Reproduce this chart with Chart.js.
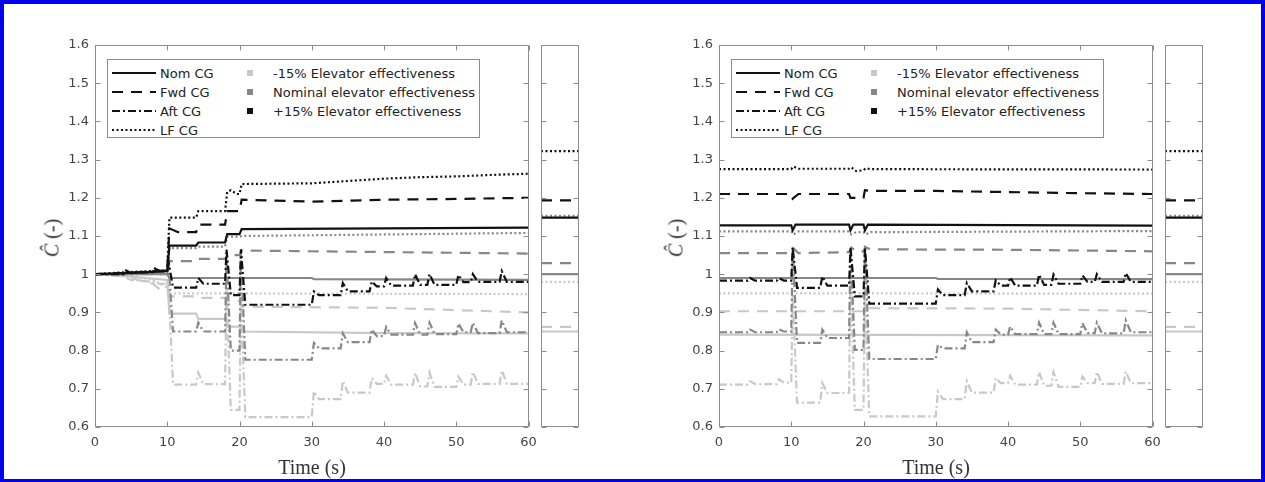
<!DOCTYPE html>
<html>
<head>
<meta charset="utf-8">
<script src="https://cdn.jsdelivr.net/npm/chart.js"></script>
<style>
  html, body { margin: 0; padding: 0; background: #fff; overflow: hidden; }
  #page { position: relative; width: 1265px; height: 482px; background: #fff; }
  #frame { position: absolute; left: 0; top: 0; width: 1265px; height: 482px; box-sizing: border-box;
           border: 4px solid #0000f0; border-bottom-width: 3px; pointer-events: none; z-index: 10; }
  canvas { position: absolute; top: 0; }
  .xt, .yt { position: absolute; font: 20px "Liberation Serif", serif; color: #333; white-space: nowrap; }
  .xt { transform: translate(-50%, -50%); }
  .yt { transform: translate(-50%, -50%) rotate(-90deg); }
  .leg { position: absolute; width: 373px; height: 79px; box-sizing: border-box; border: 1px solid #8c8c8c;
         background: #fff; font: 13px "DejaVu Sans", sans-serif; color: #222; z-index: 5; }
  .leg svg { position: absolute; }
  .leg span { position: absolute; white-space: nowrap; transform: translateY(-50%); }
  .leg i { position: absolute; width: 6px; height: 6px; transform: translate(-50%, -50%); }
</style>
</head>
<body>
<div id="page">
  <canvas id="cL" width="640" height="482" style="left:0px"></canvas>
  <canvas id="sL" width="60" height="482" style="left:530px"></canvas>
  <canvas id="cR" width="640" height="482" style="left:624px"></canvas>
  <canvas id="sR" width="60" height="482" style="left:1154px"></canvas>
  <div class="xt" style="left:312px;top:467px">Time (s)</div>
  <div class="xt" style="left:936px;top:467px">Time (s)</div>
  <div class="yt" style="left:52px;top:238px"><i>Ĉ</i> (-)</div>
  <div class="yt" style="left:676px;top:238px"><i>Ĉ</i> (-)</div>
  <div class="leg" id="legL" style="left:107px;top:59px"></div>
  <div class="leg" id="legR" style="left:731px;top:59px"></div>
  <div id="frame"></div>
</div>
<script>
// ---------- data ----------
const xTicks = [0, 10, 20, 30, 40, 50, 60];
const yTicks = [0.6, 0.7, 0.8, 0.9, 1, 1.1, 1.2, 1.3, 1.4, 1.5, 1.6];

const cgNames = ["Nom CG", "Fwd CG", "Aft CG", "LF CG"];
const elevNames = ["-15% Elevator effectiveness", "Nominal elevator effectiveness", "+15% Elevator effectiveness"];

// shared time base for the Aft CG runs (they react to every input)
const tAft = [0, 4, 4.3, 5, 8, 8.3, 9, 10, 10.2, 10.8, 14, 14.3, 15, 18, 18.2, 18.8, 20, 20.2, 20.8,
  30, 30.3, 31, 34, 34.3, 35, 38, 38.3, 39, 40, 40.3, 41, 44, 44.3, 45, 46, 46.3, 47,
  50, 50.3, 51, 52, 52.3, 53, 56, 56.3, 57, 60];

// left panel
const L_tNomBlk = [0, 4, 10, 10.3, 14, 14.3, 18, 18.3, 20, 20.3, 40, 60];
const L_yNomBlk = [1, 1.003, 1.008, 1.075, 1.075, 1.083, 1.083, 1.105, 1.105, 1.118, 1.12, 1.122];
const L_tFwdBlk = [0, 4, 10, 10.3, 11.5, 14, 14.3, 18, 18.3, 20, 20.3, 30, 40, 50, 60];
const L_yFwdBlk = [1, 1.003, 1.01, 1.12, 1.11, 1.11, 1.13, 1.13, 1.165, 1.165, 1.195, 1.19, 1.195, 1.197, 1.2];
const L_yAftBlk = [1, 1, 1.01, 1.003, 1.005, 1.015, 1.008, 1.01, 1.03, 0.965, 0.965, 0.99, 0.975,
  0.975, 1.065, 0.945, 0.945, 1.065, 0.92, 0.92, 0.955, 0.945, 0.945, 0.977, 0.955, 0.955, 0.981, 0.968,
  0.968, 0.99, 0.97, 0.97, 1.0, 0.972, 0.972, 1.0, 0.972, 0.972, 0.998, 0.979, 0.979, 1.0, 0.98,
  0.98, 1.008, 0.98, 0.98];
const L_tLFBlk = [0, 4, 10, 10.3, 14, 14.3, 18, 18.3, 18.8, 19.6, 20, 20.3, 30, 35, 40, 45, 50, 55, 60];
const L_yLFBlk = [1, 1.005, 1.01, 1.148, 1.148, 1.165, 1.165, 1.215, 1.22, 1.21, 1.21, 1.236, 1.238, 1.244, 1.25, 1.254, 1.256, 1.26, 1.263];

const L_tNomMid = [0, 4, 10, 10.3, 30, 30.3, 60];
const L_yNomMid = [1, 1, 1, 0.99, 0.99, 0.987, 0.985];
const L_tFwdMid = [0, 4, 10, 10.3, 14, 14.3, 18, 18.3, 20, 20.3, 40, 60];
const L_yFwdMid = [1, 1, 1.005, 1.034, 1.034, 1.04, 1.04, 1.05, 1.05, 1.062, 1.058, 1.054];
const L_yAftMid = [1, 1, 1.005, 1, 1, 1.01, 1, 1, 1.02, 0.85, 0.85, 0.873, 0.85, 0.85, 1.04, 0.8,
  0.8, 1.06, 0.776, 0.776, 0.82, 0.806, 0.806, 0.845, 0.822, 0.822, 0.855, 0.838, 0.838, 0.862, 0.842,
  0.842, 0.872, 0.842, 0.842, 0.873, 0.843, 0.843, 0.871, 0.848, 0.848, 0.873, 0.846, 0.846, 0.879, 0.848, 0.848];
const L_tLFMid = [0, 4, 10, 10.3, 14, 14.3, 18, 18.3, 20, 20.3, 40, 60];
const L_yLFMid = [1, 1, 1.005, 1.068, 1.068, 1.072, 1.072, 1.098, 1.098, 1.1, 1.104, 1.108];

const L_tNomLgt = [0, 4, 10, 10.3, 14, 14.3, 18, 18.3, 20, 20.3, 40, 60];
const L_yNomLgt = [1, 0.995, 0.985, 0.897, 0.897, 0.883, 0.883, 0.863, 0.863, 0.85, 0.846, 0.845];
const L_tFwdLgt = [0, 4, 5, 8, 9, 10, 10.3, 14, 14.3, 18, 18.3, 20, 20.3, 40, 60];
const L_yFwdLgt = [1, 1, 0.99, 0.975, 0.96, 0.955, 0.942, 0.942, 0.938, 0.938, 0.93, 0.93, 0.915, 0.912, 0.9];
const L_yAftLgt = [1, 0.995, 0.99, 0.985, 0.98, 0.978, 0.975, 0.975, 0.96, 0.711, 0.711, 0.742, 0.712,
  0.712, 0.96, 0.645, 0.645, 0.94, 0.626, 0.626, 0.693, 0.673, 0.673, 0.72, 0.69, 0.69, 0.728, 0.713,
  0.713, 0.734, 0.711, 0.711, 0.742, 0.706, 0.706, 0.742, 0.705, 0.705, 0.732, 0.711, 0.711, 0.744, 0.713,
  0.713, 0.748, 0.713, 0.713];
const L_tLFLgt = [0, 4, 8, 10, 10.3, 60];
const L_yLFLgt = [1, 1, 0.985, 0.965, 0.95, 0.948];

// right panel
const R_tNomBlk = [0, 10, 10.2, 10.6, 18, 18.2, 18.6, 20, 20.2, 20.6, 60];
const R_yNomBlk = [1.128, 1.128, 1.115, 1.13, 1.13, 1.115, 1.13, 1.13, 1.115, 1.13, 1.127];
const R_tFwdBlk = [0, 10, 10.2, 11, 18, 18.2, 19.8, 20, 20.2, 21, 30, 40, 50, 60];
const R_yFwdBlk = [1.21, 1.21, 1.198, 1.21, 1.21, 1.2, 1.2, 1.2, 1.22, 1.218, 1.218, 1.215, 1.212, 1.21];
const R_yAftBlk = [0.983, 0.983, 0.99, 0.983, 0.983, 0.99, 0.983, 0.983, 1.07, 0.964, 0.964, 0.994, 0.97,
  0.97, 1.07, 0.942, 0.942, 1.07, 0.923, 0.923, 0.96, 0.945, 0.945, 0.977, 0.955, 0.955, 0.984, 0.97,
  0.97, 0.992, 0.97, 0.97, 0.999, 0.972, 0.972, 0.999, 0.975, 0.975, 0.997, 0.98, 0.98, 1.0, 0.98,
  0.98, 1.003, 0.98, 0.98];
const R_tLFBlk = [0, 10, 10.3, 11, 18, 18.3, 19, 20, 20.3, 21, 60];
const R_yLFBlk = [1.275, 1.275, 1.282, 1.276, 1.276, 1.28, 1.27, 1.272, 1.277, 1.275, 1.274];

const R_tNomMid = [0, 30, 30.3, 60];
const R_yNomMid = [0.99, 0.99, 0.988, 0.987];
const R_tFwdMid = [0, 10, 10.3, 11, 18, 18.3, 19, 20, 20.3, 21, 40, 60];
const R_yFwdMid = [1.055, 1.055, 1.068, 1.055, 1.058, 1.07, 1.06, 1.06, 1.07, 1.065, 1.064, 1.06];
const R_yAftMid = [0.848, 0.848, 0.855, 0.848, 0.848, 0.856, 0.85, 0.85, 1.07, 0.82, 0.82, 0.855, 0.833,
  0.833, 1.07, 0.802, 0.802, 1.075, 0.778, 0.778, 0.815, 0.806, 0.806, 0.848, 0.822, 0.822, 0.855, 0.842,
  0.842, 0.863, 0.843, 0.843, 0.873, 0.843, 0.843, 0.873, 0.843, 0.843, 0.872, 0.846, 0.846, 0.873, 0.845,
  0.845, 0.879, 0.848, 0.848];
const R_tLFMid = [0, 10, 10.3, 11, 18, 18.3, 19, 20, 20.3, 21, 60];
const R_yLFMid = [1.112, 1.112, 1.104, 1.112, 1.112, 1.104, 1.11, 1.11, 1.104, 1.11, 1.113];

const R_tNomLgt = [0, 60];
const R_yNomLgt = [0.842, 0.84];
const R_tFwdLgt = [0, 20, 20.3, 40, 60];
const R_yFwdLgt = [0.903, 0.903, 0.911, 0.91, 0.903];
const R_yAftLgt = [0.711, 0.711, 0.72, 0.712, 0.712, 0.725, 0.716, 0.716, 0.95, 0.664, 0.664, 0.715, 0.689,
  0.689, 1.0, 0.645, 0.645, 0.96, 0.628, 0.628, 0.693, 0.673, 0.673, 0.72, 0.69, 0.69, 0.728, 0.715,
  0.715, 0.734, 0.711, 0.711, 0.744, 0.708, 0.708, 0.744, 0.705, 0.705, 0.732, 0.715, 0.715, 0.744, 0.713,
  0.713, 0.745, 0.715, 0.715];
const R_tLFLgt = [0, 60];
const R_yLFLgt = [0.95, 0.949];

// side panels (same on both plots)
const sideX = [0, 1];
const sideVal = [1.322, 1.193, 1.148, 1.153, 1.029, 1.0, 0.98, 0.862, 0.85];
const sideCG = ["LF", "Fwd", "Nom", "LF", "Fwd", "Nom", "LF", "Fwd", "Nom"];
const sideShade = ["blk", "blk", "blk", "mid", "mid", "mid", "lgt", "lgt", "lgt"];

// ---------- styles ----------
const SHADE = { blk: "#111111", mid: "#878787", lgt: "#c8c8c8" };
const DASH = { Nom: [], Fwd: [11, 8], Aft: [8, 3, 2, 3], LF: [2, 2.5] };
const ORDER = { blk: 0, mid: 1, lgt: 2 };

function ser(t, y, cg, shade) {
  return {
    data: t.map((v, i) => ({ x: v, y: y[i] })),
    borderColor: SHADE[shade], borderDash: DASH[cg], borderWidth: 2.2,
    pointRadius: 0, tension: 0, fill: false, order: ORDER[shade]
  };
}

// inward ticks on all four sides plus the axes box, MATLAB style
const boxTicks = {
  id: "boxTicks",
  afterDatasetsDraw(chart, _args, opts) {
    const { ctx, chartArea: a, scales } = chart;
    const L = Math.round(a.left) + 0.5, R = Math.round(a.right) - 0.5;
    const T = Math.round(a.top) + 0.5, B = Math.round(a.bottom) - 0.5;
    ctx.save();
    ctx.strokeStyle = "#8c8c8c";
    ctx.lineWidth = 1;
    ctx.setLineDash([]);
    ctx.beginPath();
    ctx.rect(L, T, R - L, B - T);
    if (opts.xTicks) {
      xTicks.forEach(v => {
        const px = Math.round(scales.x.getPixelForValue(v)) + 0.5;
        ctx.moveTo(px, B); ctx.lineTo(px, B - 5);
        ctx.moveTo(px, T); ctx.lineTo(px, T + 5);
      });
    }
    yTicks.forEach(v => {
      const py = Math.round(scales.y.getPixelForValue(v)) + 0.5;
      ctx.moveTo(L, py); ctx.lineTo(L + 5, py);
      ctx.moveTo(R, py); ctx.lineTo(R - 5, py);
    });
    ctx.stroke();
    ctx.restore();
  }
};

const tickFont = { family: "DejaVu Sans", size: 13 };

function mainChart(id, datasets) {
  return new Chart(document.getElementById(id), {
    type: "line",
    data: { datasets },
    options: {
      responsive: false, animation: false, devicePixelRatio: 1,
      layout: { padding: { left: 0, top: 45, right: 111.5, bottom: 0 } },
      plugins: { legend: { display: false }, tooltip: { enabled: false }, boxTicks: { xTicks: true } },
      scales: {
        x: {
          type: "linear", min: 0, max: 60,
          afterFit: s => { s.height = 55; },
          afterBuildTicks: s => { s.ticks = xTicks.map(v => ({ value: v })); },
          grid: { display: false, drawTicks: false }, border: { display: false },
          ticks: { padding: 8, color: "#444", font: tickFont, maxRotation: 0, autoSkip: false }
        },
        y: {
          min: 0.6, max: 1.6,
          afterFit: s => { s.width = 95; },
          afterBuildTicks: s => { s.ticks = yTicks.map(v => ({ value: v })); },
          grid: { display: false, drawTicks: false }, border: { display: false },
          ticks: { padding: 6, color: "#444", font: tickFont, autoSkip: false,
                   callback: v => String(Math.round(v * 10) / 10) }
        }
      }
    },
    plugins: [boxTicks]
  });
}

function sideChart(id) {
  const datasets = sideVal.map((v, i) => ser(sideX, [v, v], sideCG[i], sideShade[i]));
  return new Chart(document.getElementById(id), {
    type: "line",
    data: { datasets },
    options: {
      responsive: false, animation: false, devicePixelRatio: 1,
      layout: { padding: { left: 11, top: 45, right: 11, bottom: 55 } },
      plugins: { legend: { display: false }, tooltip: { enabled: false }, boxTicks: { xTicks: false } },
      scales: {
        x: { type: "linear", min: 0, max: 1, afterFit: s => { s.height = 0; },
             grid: { display: false, drawTicks: false }, border: { display: false }, ticks: { display: false } },
        y: { min: 0.6, max: 1.6, afterFit: s => { s.width = 0; },
             grid: { display: false, drawTicks: false }, border: { display: false }, ticks: { display: false } }
      }
    },
    plugins: [boxTicks]
  });
}

mainChart("cL", [
  ser(L_tNomBlk, L_yNomBlk, "Nom", "blk"),
  ser(L_tFwdBlk, L_yFwdBlk, "Fwd", "blk"),
  ser(tAft, L_yAftBlk, "Aft", "blk"),
  ser(L_tLFBlk, L_yLFBlk, "LF", "blk"),
  ser(L_tNomMid, L_yNomMid, "Nom", "mid"),
  ser(L_tFwdMid, L_yFwdMid, "Fwd", "mid"),
  ser(tAft, L_yAftMid, "Aft", "mid"),
  ser(L_tLFMid, L_yLFMid, "LF", "mid"),
  ser(L_tNomLgt, L_yNomLgt, "Nom", "lgt"),
  ser(L_tFwdLgt, L_yFwdLgt, "Fwd", "lgt"),
  ser(tAft, L_yAftLgt, "Aft", "lgt"),
  ser(L_tLFLgt, L_yLFLgt, "LF", "lgt")
]);

mainChart("cR", [
  ser(R_tNomBlk, R_yNomBlk, "Nom", "blk"),
  ser(R_tFwdBlk, R_yFwdBlk, "Fwd", "blk"),
  ser(tAft, R_yAftBlk, "Aft", "blk"),
  ser(R_tLFBlk, R_yLFBlk, "LF", "blk"),
  ser(R_tNomMid, R_yNomMid, "Nom", "mid"),
  ser(R_tFwdMid, R_yFwdMid, "Fwd", "mid"),
  ser(tAft, R_yAftMid, "Aft", "mid"),
  ser(R_tLFMid, R_yLFMid, "LF", "mid"),
  ser(R_tNomLgt, R_yNomLgt, "Nom", "lgt"),
  ser(R_tFwdLgt, R_yFwdLgt, "Fwd", "lgt"),
  ser(tAft, R_yAftLgt, "Aft", "lgt"),
  ser(R_tLFLgt, R_yLFLgt, "LF", "lgt")
]);

sideChart("sL");
sideChart("sR");

// ---------- legends ----------
function buildLegend(id) {
  const box = document.getElementById(id);
  const keys = ["Nom", "Fwd", "Aft", "LF"];
  const rows = [13, 32, 51, 70];
  keys.forEach((k, i) => {
    const svg = document.createElementNS("http://www.w3.org/2000/svg", "svg");
    svg.setAttribute("width", "44"); svg.setAttribute("height", "6");
    svg.style.left = "4px"; svg.style.top = (rows[i] - 3) + "px";
    const ln = document.createElementNS("http://www.w3.org/2000/svg", "line");
    ln.setAttribute("x1", "0"); ln.setAttribute("x2", "44");
    ln.setAttribute("y1", "3"); ln.setAttribute("y2", "3");
    ln.setAttribute("stroke", SHADE.blk); ln.setAttribute("stroke-width", "2.2");
    if (DASH[k].length) ln.setAttribute("stroke-dasharray", DASH[k].join(" "));
    svg.appendChild(ln);
    box.appendChild(svg);
    const s = document.createElement("span");
    s.textContent = cgNames[i];
    s.style.left = "52px"; s.style.top = rows[i] + "px";
    box.appendChild(s);
  });
  ["lgt", "mid", "blk"].forEach((sh, i) => {
    const m = document.createElement("i");
    m.style.background = SHADE[sh];
    m.style.left = "142px"; m.style.top = rows[i] + "px";
    box.appendChild(m);
    const s = document.createElement("span");
    s.textContent = elevNames[i];
    s.style.left = "165px"; s.style.top = rows[i] + "px";
    box.appendChild(s);
  });
}
buildLegend("legL");
buildLegend("legR");
</script>
</body>
</html>
